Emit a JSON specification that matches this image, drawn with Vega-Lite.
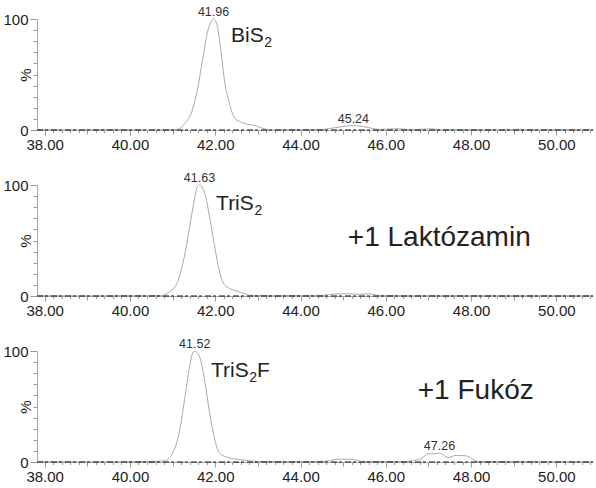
{
  "$schema": "https://vega.github.io/schema/vega-lite/v6.json",
  "padding": {"left": 2, "top": 6, "right": 0, "bottom": 0},
  "config": {"view": {"stroke": null}, "font": "Liberation Sans", "concat": {"spacing": 55}},
  "spacing": 55,
  "bounds": "flush",
  "datasets": {
    "trace": [
      {"p":1,"t":37.82,"v":0.3},{"p":1,"t":38.5,"v":0},{"p":1,"t":39.5,"v":0.4},{"p":1,"t":40.5,"v":0},{"p":1,"t":41.0,"v":0.3},{"p":1,"t":41.13,"v":0.6},{"p":1,"t":41.28,"v":5.4},{"p":1,"t":41.48,"v":20},{"p":1,"t":41.59,"v":38},{"p":1,"t":41.71,"v":65},{"p":1,"t":41.83,"v":90},{"p":1,"t":41.96,"v":100},{"p":1,"t":42.04,"v":95},{"p":1,"t":42.13,"v":72},{"p":1,"t":42.22,"v":44},{"p":1,"t":42.34,"v":23},{"p":1,"t":42.45,"v":11},{"p":1,"t":42.61,"v":7},{"p":1,"t":42.92,"v":4},{"p":1,"t":43.16,"v":1},{"p":1,"t":43.3,"v":0},{"p":1,"t":43.8,"v":0.3},{"p":1,"t":44.45,"v":0.4},{"p":1,"t":44.8,"v":2},{"p":1,"t":45.24,"v":4},{"p":1,"t":45.55,"v":2.5},{"p":1,"t":45.85,"v":0.5},{"p":1,"t":46.3,"v":1.2},{"p":1,"t":46.55,"v":0.3},{"p":1,"t":47.1,"v":1},{"p":1,"t":47.3,"v":0.2},{"p":1,"t":48.0,"v":0.3},{"p":1,"t":49.0,"v":0.2},{"p":1,"t":49.1,"v":0.8},{"p":1,"t":49.3,"v":0.2},{"p":1,"t":50.0,"v":0.3},{"p":1,"t":50.86,"v":0.2},
      {"p":2,"t":37.82,"v":0.2},{"p":2,"t":39.0,"v":0},{"p":2,"t":40.0,"v":0.3},{"p":2,"t":40.5,"v":0.2},{"p":2,"t":40.73,"v":0.5},{"p":2,"t":41.05,"v":8},{"p":2,"t":41.24,"v":29},{"p":2,"t":41.36,"v":53},{"p":2,"t":41.48,"v":80},{"p":2,"t":41.59,"v":99},{"p":2,"t":41.63,"v":100},{"p":2,"t":41.75,"v":93},{"p":2,"t":41.87,"v":71},{"p":2,"t":41.99,"v":44},{"p":2,"t":42.1,"v":22},{"p":2,"t":42.22,"v":10},{"p":2,"t":42.45,"v":5},{"p":2,"t":42.69,"v":2},{"p":2,"t":42.84,"v":0.5},{"p":2,"t":43.3,"v":0.3},{"p":2,"t":44.0,"v":0.5},{"p":2,"t":44.5,"v":0.5},{"p":2,"t":44.8,"v":1.8},{"p":2,"t":45.1,"v":2},{"p":2,"t":45.4,"v":1.5},{"p":2,"t":45.6,"v":2},{"p":2,"t":45.85,"v":0.5},{"p":2,"t":46.5,"v":0.2},{"p":2,"t":48.0,"v":0.3},{"p":2,"t":50.86,"v":0.2},
      {"p":3,"t":37.82,"v":0.2},{"p":3,"t":39.0,"v":0},{"p":3,"t":40.0,"v":0.2},{"p":3,"t":40.5,"v":0.5},{"p":3,"t":40.81,"v":1},{"p":3,"t":41.0,"v":8},{"p":3,"t":41.17,"v":29},{"p":3,"t":41.28,"v":56},{"p":3,"t":41.4,"v":86},{"p":3,"t":41.48,"v":99},{"p":3,"t":41.52,"v":100},{"p":3,"t":41.63,"v":95},{"p":3,"t":41.75,"v":74},{"p":3,"t":41.87,"v":44},{"p":3,"t":41.99,"v":20},{"p":3,"t":42.1,"v":8},{"p":3,"t":42.3,"v":4},{"p":3,"t":42.61,"v":2},{"p":3,"t":43.0,"v":0.5},{"p":3,"t":43.5,"v":0.3},{"p":3,"t":44.2,"v":0.3},{"p":3,"t":44.6,"v":0.8},{"p":3,"t":44.9,"v":2.5},{"p":3,"t":45.2,"v":2.5},{"p":3,"t":45.45,"v":0.5},{"p":3,"t":46.0,"v":0.3},{"p":3,"t":46.46,"v":0.5},{"p":3,"t":46.83,"v":3},{"p":3,"t":47.0,"v":7.5},{"p":3,"t":47.15,"v":7.5},{"p":3,"t":47.26,"v":8},{"p":3,"t":47.46,"v":4},{"p":3,"t":47.65,"v":6},{"p":3,"t":47.89,"v":5.5},{"p":3,"t":48.17,"v":0.5},{"p":3,"t":49.0,"v":0.3},{"p":3,"t":50.0,"v":0.2},{"p":3,"t":50.86,"v":0.2}
    ],
    "base": [{"t":37.82,"v":0},{"t":50.86,"v":0}],
    "lab": [
      {"p":1,"kind":"peak","t":41.96,"v":100,"text":"41.96"},
      {"p":1,"kind":"peak","t":45.24,"v":4,"text":"45.24"},
      {"p":1,"kind":"name","t":42.37,"v":79,"text":"BiS"},
      {"p":1,"kind":"sub","t":43.15,"v":75,"text":"2"},
      {"p":2,"kind":"peak","t":41.63,"v":100,"text":"41.63"},
      {"p":2,"kind":"name","t":42.02,"v":77.5,"text":"TriS"},
      {"p":2,"kind":"sub","t":42.92,"v":73,"text":"2"},
      {"p":2,"kind":"big","t":45.11,"v":45,"text":"+1 Laktózamin"},
      {"p":3,"kind":"peak","t":41.52,"v":100,"text":"41.52"},
      {"p":3,"kind":"peak","t":47.26,"v":8,"text":"47.26"},
      {"p":3,"kind":"name","t":41.9,"v":76.6,"text":"TriS"},
      {"p":3,"kind":"sub","t":42.8,"v":72,"text":"2"},
      {"p":3,"kind":"name","t":42.98,"v":76.6,"text":"F"},
      {"p":3,"kind":"big","t":46.75,"v":56.8,"text":"+1 Fukóz"}
    ]
  },
  "vconcat": [
    {
      "width": 556, "height": 111,
      "encoding": {
        "x": {"field": "t", "type": "quantitative", "scale": {"domain": [37.82, 50.86], "nice": false, "zero": false},
          "axis": {"title": null, "grid": false, "values": [38,38.2,38.4,38.6,38.8,39,39.2,39.4,39.6,39.8,40,40.2,40.4,40.6,40.8,41,41.2,41.4,41.6,41.8,42,42.2,42.4,42.6,42.8,43,43.2,43.4,43.6,43.8,44,44.2,44.4,44.6,44.8,45,45.2,45.4,45.6,45.8,46,46.2,46.4,46.6,46.8,47,47.2,47.4,47.6,47.8,48,48.2,48.4,48.6,48.8,49,49.2,49.4,49.6,49.8,50,50.2,50.4,50.6,50.8],
            "labelExpr": "abs(datum.value - 2*round(datum.value/2)) < 0.01 ? format(datum.value, '.2f') : ''",
            "tickSize": {"condition": [{"test": "abs(datum.value - 2*round(datum.value/2)) < 0.01", "value": 5}, {"test": "abs(datum.value - round(datum.value)) < 0.01", "value": 4}], "value": 2.5},
            "labelFontSize": 15, "labelPadding": 2, "labelFlush": false, "labelOverlap": false, "labelColor": "#222", "domainColor": "#aaa", "tickColor": "#999"}},
        "y": {"field": "v", "type": "quantitative", "scale": {"domain": [0, 100], "nice": false},
          "axis": {"title": "%", "grid": false, "values": [0,10,20,30,40,50,60,70,80,90,100],
            "labelExpr": "datum.value == 0 || datum.value == 100 ? datum.label : ''",
            "tickSize": {"condition": {"test": "datum.value == 0 || datum.value == 100", "value": 7}, "value": 4},
            "labelFontSize": 15, "labelPadding": 2, "labelColor": "#222", "domainColor": "#aaa", "tickColor": "#999",
            "titleFontSize": 15, "titleFontWeight": "normal", "titleColor": "#222", "titleX": -12, "titleBaseline": "middle"}}
      },
      "layer": [
        {"data": {"name": "trace"}, "transform": [{"filter": "datum.p == 1"}], "mark": {"type": "line", "interpolate": "monotone", "color": "#aaa", "strokeWidth": 1}},
        {"data": {"name": "base"}, "mark": {"type": "line", "color": "#111", "strokeWidth": 1, "strokeDash": [6, 2, 3, 3]}},
        {"data": {"name": "lab"}, "transform": [{"filter": "datum.p == 1 && datum.kind == 'peak'"}], "mark": {"type": "text", "fontSize": 12.5, "dy": -3, "baseline": "alphabetic", "align": "center", "color": "#333"}, "encoding": {"text": {"field": "text"}}},
        {"data": {"name": "lab"}, "transform": [{"filter": "datum.p == 1 && datum.kind == 'name'"}], "mark": {"type": "text", "fontSize": 21, "baseline": "alphabetic", "align": "left", "color": "#222"}, "encoding": {"text": {"field": "text"}}},
        {"data": {"name": "lab"}, "transform": [{"filter": "datum.p == 1 && datum.kind == 'sub'"}], "mark": {"type": "text", "fontSize": 14, "baseline": "alphabetic", "align": "left", "color": "#222"}, "encoding": {"text": {"field": "text"}}}
      ]
    },
    {
      "width": 556, "height": 111,
      "encoding": {
        "x": {"field": "t", "type": "quantitative", "scale": {"domain": [37.82, 50.86], "nice": false, "zero": false},
          "axis": {"title": null, "grid": false, "values": [38,38.2,38.4,38.6,38.8,39,39.2,39.4,39.6,39.8,40,40.2,40.4,40.6,40.8,41,41.2,41.4,41.6,41.8,42,42.2,42.4,42.6,42.8,43,43.2,43.4,43.6,43.8,44,44.2,44.4,44.6,44.8,45,45.2,45.4,45.6,45.8,46,46.2,46.4,46.6,46.8,47,47.2,47.4,47.6,47.8,48,48.2,48.4,48.6,48.8,49,49.2,49.4,49.6,49.8,50,50.2,50.4,50.6,50.8],
            "labelExpr": "abs(datum.value - 2*round(datum.value/2)) < 0.01 ? format(datum.value, '.2f') : ''",
            "tickSize": {"condition": [{"test": "abs(datum.value - 2*round(datum.value/2)) < 0.01", "value": 5}, {"test": "abs(datum.value - round(datum.value)) < 0.01", "value": 4}], "value": 2.5},
            "labelFontSize": 15, "labelPadding": 2, "labelFlush": false, "labelOverlap": false, "labelColor": "#222", "domainColor": "#aaa", "tickColor": "#999"}},
        "y": {"field": "v", "type": "quantitative", "scale": {"domain": [0, 100], "nice": false},
          "axis": {"title": "%", "grid": false, "values": [0,10,20,30,40,50,60,70,80,90,100],
            "labelExpr": "datum.value == 0 || datum.value == 100 ? datum.label : ''",
            "tickSize": {"condition": {"test": "datum.value == 0 || datum.value == 100", "value": 7}, "value": 4},
            "labelFontSize": 15, "labelPadding": 2, "labelColor": "#222", "domainColor": "#aaa", "tickColor": "#999",
            "titleFontSize": 15, "titleFontWeight": "normal", "titleColor": "#222", "titleX": -12, "titleBaseline": "middle"}}
      },
      "layer": [
        {"data": {"name": "trace"}, "transform": [{"filter": "datum.p == 2"}], "mark": {"type": "line", "interpolate": "monotone", "color": "#aaa", "strokeWidth": 1}},
        {"data": {"name": "base"}, "mark": {"type": "line", "color": "#111", "strokeWidth": 1, "strokeDash": [6, 2, 3, 3]}},
        {"data": {"name": "lab"}, "transform": [{"filter": "datum.p == 2 && datum.kind == 'peak'"}], "mark": {"type": "text", "fontSize": 12.5, "dy": -3, "baseline": "alphabetic", "align": "center", "color": "#333"}, "encoding": {"text": {"field": "text"}}},
        {"data": {"name": "lab"}, "transform": [{"filter": "datum.p == 2 && datum.kind == 'name'"}], "mark": {"type": "text", "fontSize": 21, "baseline": "alphabetic", "align": "left", "color": "#222"}, "encoding": {"text": {"field": "text"}}},
        {"data": {"name": "lab"}, "transform": [{"filter": "datum.p == 2 && datum.kind == 'sub'"}], "mark": {"type": "text", "fontSize": 14, "baseline": "alphabetic", "align": "left", "color": "#222"}, "encoding": {"text": {"field": "text"}}},
        {"data": {"name": "lab"}, "transform": [{"filter": "datum.p == 2 && datum.kind == 'big'"}], "mark": {"type": "text", "fontSize": 28, "baseline": "alphabetic", "align": "left", "color": "#222"}, "encoding": {"text": {"field": "text"}}}
      ]
    },
    {
      "width": 556, "height": 111,
      "encoding": {
        "x": {"field": "t", "type": "quantitative", "scale": {"domain": [37.82, 50.86], "nice": false, "zero": false},
          "axis": {"title": null, "grid": false, "values": [38,38.2,38.4,38.6,38.8,39,39.2,39.4,39.6,39.8,40,40.2,40.4,40.6,40.8,41,41.2,41.4,41.6,41.8,42,42.2,42.4,42.6,42.8,43,43.2,43.4,43.6,43.8,44,44.2,44.4,44.6,44.8,45,45.2,45.4,45.6,45.8,46,46.2,46.4,46.6,46.8,47,47.2,47.4,47.6,47.8,48,48.2,48.4,48.6,48.8,49,49.2,49.4,49.6,49.8,50,50.2,50.4,50.6,50.8],
            "labelExpr": "abs(datum.value - 2*round(datum.value/2)) < 0.01 ? format(datum.value, '.2f') : ''",
            "tickSize": {"condition": [{"test": "abs(datum.value - 2*round(datum.value/2)) < 0.01", "value": 5}, {"test": "abs(datum.value - round(datum.value)) < 0.01", "value": 4}], "value": 2.5},
            "labelFontSize": 15, "labelPadding": 2, "labelFlush": false, "labelOverlap": false, "labelColor": "#222", "domainColor": "#aaa", "tickColor": "#999"}},
        "y": {"field": "v", "type": "quantitative", "scale": {"domain": [0, 100], "nice": false},
          "axis": {"title": "%", "grid": false, "values": [0,10,20,30,40,50,60,70,80,90,100],
            "labelExpr": "datum.value == 0 || datum.value == 100 ? datum.label : ''",
            "tickSize": {"condition": {"test": "datum.value == 0 || datum.value == 100", "value": 7}, "value": 4},
            "labelFontSize": 15, "labelPadding": 2, "labelColor": "#222", "domainColor": "#aaa", "tickColor": "#999",
            "titleFontSize": 15, "titleFontWeight": "normal", "titleColor": "#222", "titleX": -12, "titleBaseline": "middle"}}
      },
      "layer": [
        {"data": {"name": "trace"}, "transform": [{"filter": "datum.p == 3"}], "mark": {"type": "line", "interpolate": "monotone", "color": "#aaa", "strokeWidth": 1}},
        {"data": {"name": "base"}, "mark": {"type": "line", "color": "#111", "strokeWidth": 1, "strokeDash": [6, 2, 3, 3]}},
        {"data": {"name": "lab"}, "transform": [{"filter": "datum.p == 3 && datum.kind == 'peak'"}], "mark": {"type": "text", "fontSize": 12.5, "dy": -3, "baseline": "alphabetic", "align": "center", "color": "#333"}, "encoding": {"text": {"field": "text"}}},
        {"data": {"name": "lab"}, "transform": [{"filter": "datum.p == 3 && datum.kind == 'name'"}], "mark": {"type": "text", "fontSize": 21, "baseline": "alphabetic", "align": "left", "color": "#222"}, "encoding": {"text": {"field": "text"}}},
        {"data": {"name": "lab"}, "transform": [{"filter": "datum.p == 3 && datum.kind == 'sub'"}], "mark": {"type": "text", "fontSize": 14, "baseline": "alphabetic", "align": "left", "color": "#222"}, "encoding": {"text": {"field": "text"}}},
        {"data": {"name": "lab"}, "transform": [{"filter": "datum.p == 3 && datum.kind == 'big'"}], "mark": {"type": "text", "fontSize": 28, "baseline": "alphabetic", "align": "left", "color": "#222"}, "encoding": {"text": {"field": "text"}}}
      ]
    }
  ]
}
